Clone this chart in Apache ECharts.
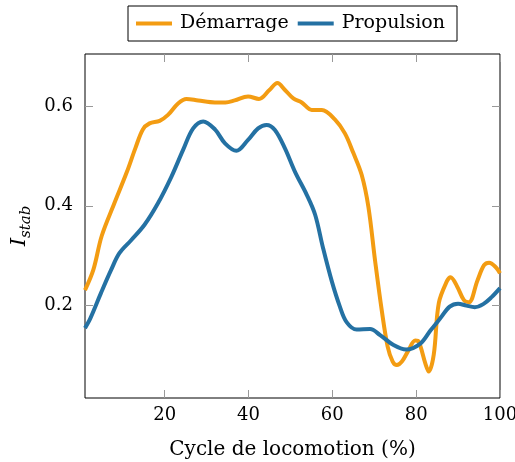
<!DOCTYPE html>
<html>
<head>
<meta charset="utf-8">
<script src="https://cdn.jsdelivr.net/npm/echarts@6/dist/echarts.min.js"></script>
<style>
  html, body { margin: 0; padding: 0; background: #fff; }
  #chart { width: 515px; height: 462px; }
</style>
</head>
<body>
<div id="chart"></div>
<script>
// Gait cycle position (%) and stability index per phase
const demarrageX = [1, 3, 5, 8, 11, 13, 14.8, 16.4, 18.8, 20.8, 23.2, 25.2, 28, 32, 34.5, 36.7, 39.9, 42.5, 45, 46.9, 48.7, 50.7, 52.7, 55.1, 57.5, 60.6, 63, 65, 67, 68.6, 70.2, 71.8, 73.2, 74.4, 75.4, 76.6, 78, 79.8, 80.6, 82.2, 83, 84.2, 85.4, 87.4, 88.2, 89.8, 91.4, 92.6, 94.6, 96.2, 97.4, 99, 100];
const demarrageY = [0.231, 0.272, 0.340, 0.405, 0.468, 0.515, 0.553, 0.565, 0.570, 0.582, 0.605, 0.614, 0.611, 0.607, 0.607, 0.611, 0.619, 0.614, 0.632, 0.646, 0.632, 0.615, 0.607, 0.592, 0.592, 0.573, 0.545, 0.506, 0.462, 0.398, 0.290, 0.190, 0.118, 0.088, 0.081, 0.088, 0.108, 0.130, 0.128, 0.084, 0.068, 0.102, 0.205, 0.250, 0.257, 0.238, 0.211, 0.207, 0.250, 0.281, 0.286, 0.277, 0.265];

const propulsionX = [1, 2.3, 4.8, 7.2, 9.2, 12, 15.2, 18.4, 21.6, 24.4, 26.8, 29.2, 32, 34.4, 37.1, 39.9, 42.3, 44.3, 46.3, 48.7, 51.1, 53.9, 55.9, 57.8, 59.9, 61.8, 63.4, 65.8, 69, 71.4, 74.6, 77.6, 81, 83.4, 85.8, 88, 90, 92, 94, 96, 98, 100];
const propulsionY = [0.155, 0.175, 0.225, 0.271, 0.305, 0.331, 0.362, 0.405, 0.458, 0.512, 0.555, 0.569, 0.553, 0.525, 0.510, 0.532, 0.555, 0.562, 0.552, 0.515, 0.468, 0.422, 0.382, 0.315, 0.248, 0.198, 0.167, 0.152, 0.153, 0.141, 0.121, 0.112, 0.124, 0.150, 0.175, 0.198, 0.204, 0.200, 0.197, 0.203, 0.217, 0.235];

const xTicks = [20, 40, 60, 80, 100];
const yTicks = [0.2, 0.4, 0.6];

const FONT = 'DejaVu Serif';
const ORANGE = '#f39c12';
const BLUE = '#2471a3';
const TICK_GRAY = '#999';

const pairs = (xs, ys) => xs.map((x, i) => [x, ys[i]]);

const innerTicks = (values) => ({
  show: true, inside: true, length: 8, customValues: values,
  lineStyle: { color: TICK_GRAY, width: 1 }
});

const chart = echarts.init(document.getElementById('chart'), null, { renderer: 'canvas' });

chart.setOption({
  animation: false,
  backgroundColor: '#fff',
  grid: {
    left: 85, right: 15, top: 54, bottom: 64,
    outerBoundsMode: 'none', containLabel: false,
    show: true, borderColor: '#000', borderWidth: 1, backgroundColor: 'transparent'
  },
  legend: {
    left: 128, top: 6,
    padding: [8, 12, 8, 8],
    borderColor: '#000', borderWidth: 1, borderRadius: 0,
    itemWidth: 36, itemHeight: 4, itemGap: 9,
    icon: 'rect',
    textStyle: { fontFamily: FONT, fontSize: 19, color: '#000', padding: [0, 0, 0, 3] },
    data: ['Démarrage', 'Propulsion']
  },
  xAxis: [
    {
      type: 'value', position: 'bottom', min: 1, max: 100,
      name: 'Cycle de locomotion (%)', nameLocation: 'middle', nameGap: 42,
      nameTextStyle: { fontFamily: FONT, fontSize: 20, color: '#000' },
      axisLine: { show: false },
      axisTick: innerTicks(xTicks),
      axisLabel: { customValues: xTicks, fontFamily: FONT, fontSize: 18, color: '#000', margin: 8 },
      splitLine: { show: false }
    },
    {
      type: 'value', position: 'top', min: 1, max: 100,
      axisLine: { show: false },
      axisTick: innerTicks(xTicks),
      axisLabel: { show: false },
      splitLine: { show: false }
    }
  ],
  yAxis: [
    {
      type: 'value', position: 'left', min: 0.015, max: 0.704,
      name: '{i|I}{s|stab}', nameLocation: 'middle', nameGap: 50, nameRotate: 90,
      nameTextStyle: {
        color: '#000',
        rich: {
          i: { fontFamily: FONT, fontStyle: 'italic', fontSize: 21, color: '#000' },
          s: { fontFamily: FONT, fontStyle: 'italic', fontSize: 15, color: '#000', padding: [12, 0, 0, 0] }
        }
      },
      axisLine: { show: false },
      axisTick: innerTicks(yTicks),
      axisLabel: {
        customValues: yTicks, fontFamily: FONT, fontSize: 18, color: '#000', margin: 12,
        formatter: (v) => v.toFixed(1)
      },
      splitLine: { show: false }
    },
    {
      type: 'value', position: 'right', min: 0.015, max: 0.704,
      axisLine: { show: false },
      axisTick: innerTicks(yTicks),
      axisLabel: { show: false },
      splitLine: { show: false }
    }
  ],
  series: [
    {
      name: 'Démarrage', type: 'line', smooth: 0.35, showSymbol: false,
      data: pairs(demarrageX, demarrageY),
      lineStyle: { color: ORANGE, width: 4 }, itemStyle: { color: ORANGE },
      z: 3
    },
    {
      name: 'Propulsion', type: 'line', smooth: 0.35, showSymbol: false,
      data: pairs(propulsionX, propulsionY),
      lineStyle: { color: BLUE, width: 4 }, itemStyle: { color: BLUE },
      z: 4
    }
  ]
});
</script>
</body>
</html>
